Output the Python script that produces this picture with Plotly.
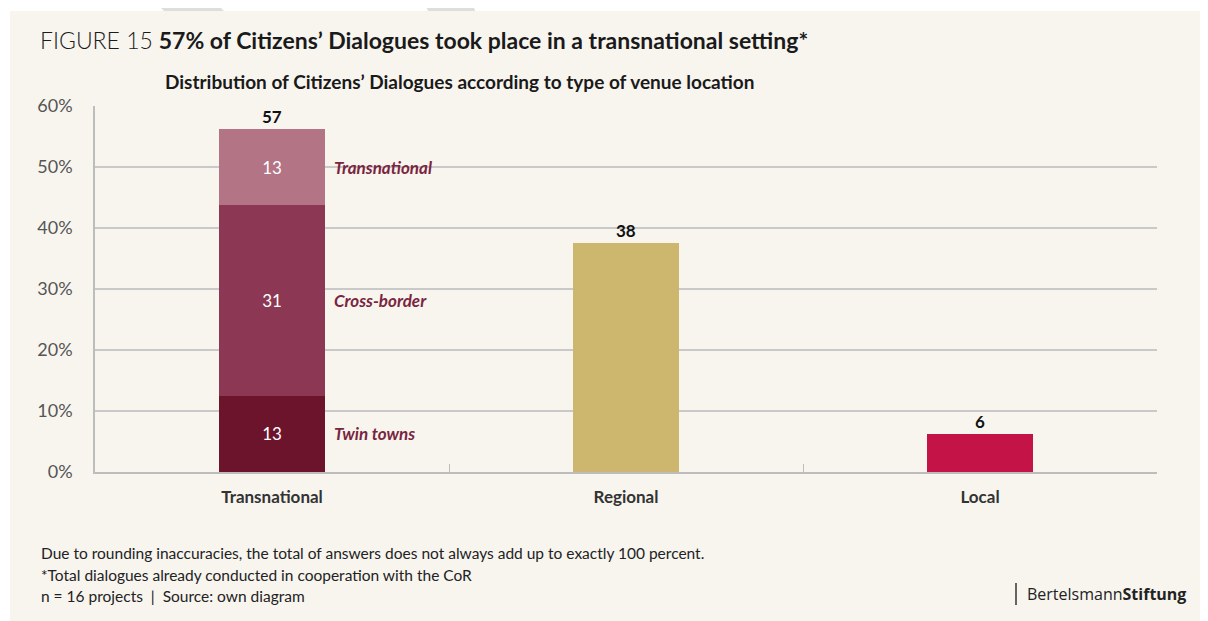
import plotly.graph_objects as go

categories = ["Transnational", "Regional", "Local"]
segment_names = ["Twin towns", "Cross-border", "Transnational"]
segment_values = [12.5, 31.25, 12.5]          # Transnational bar stack
segment_labels = ["13", "31", "13"]
segment_colors = ["#6d142d", "#8c3753", "#b37485"]
other_values = [37.5, 6.25]                   # Regional, Local
other_colors = ["#cdb76e", "#c41447"]
total_labels = ["57", "38", "6"]
y_ticks = [0, 10, 20, 30, 40, 50, 60]
y_tick_text = ["0%", "10%", "20%", "30%", "40%", "50%", "60%"]

OFF = 8  # page body margin
W, H = 1208 - OFF, 621 - OFF
# plot area in screen pixels
SL, SR, ST, SB = 95, 1157, 106, 472
L, R, T, B = SL - OFF, SR - OFF, ST - OFF, SB - OFF
FONT = "Lato"

fig = go.Figure()
for name, v, lab, col in zip(segment_names, segment_values, segment_labels, segment_colors):
    fig.add_trace(go.Bar(
        x=[categories[0]], y=[v], name=name, marker=dict(color=col, line=dict(width=0)),
        text=[lab], textposition="inside", insidetextanchor="middle",
        textfont=dict(color="white", size=17, family=FONT), width=0.3,
        hoverinfo="skip"))
fig.add_trace(go.Bar(
    x=categories[1:], y=other_values, marker=dict(color=other_colors, line=dict(width=0)),
    width=0.3, hoverinfo="skip", showlegend=False))

totals = [sum(segment_values)] + other_values
annotations = []
for c, t, lab in zip(categories, totals, total_labels):
    annotations.append(dict(x=c, y=t, text=f"<b>{lab}</b>", showarrow=False, yanchor="bottom",
                            yshift=0, font=dict(size=17, color="#111", family=FONT)))
cum = 0
for name, v in zip(segment_names, segment_values):
    annotations.append(dict(x=categories[0], y=cum + v / 2, text=f"<b><i>{name}</i></b>", showarrow=False,
                            xanchor="left", xshift=60, font=dict(size=17, color="#7a2540", family=FONT)))
    cum += v

def px(x):  # screen x -> paper
    return (x - SL) / (SR - SL)

def py(y):  # screen y -> paper
    return (SB - y) / (SB - ST)

def note(x, y, text, size, anchor="left", family=FONT, color="#222"):
    return dict(x=px(x), y=py(y), xref="paper", yref="paper", xanchor=anchor, yanchor="middle",
                showarrow=False, text=text, font=dict(size=size, color=color, family=family))

annotations += [
    note(38, 40, "<span style='font-weight:300'>FIGURE 15</span> <b>57% of Citizens’ Dialogues took place in a transnational setting*</b>",
         23, color="#1a1a1a"),
    note(163, 81, "<b>Distribution of Citizens’ Dialogues according to type of venue location</b>", 19, color="#1a1a1a"),
    note(39, 553, "Due to rounding inaccuracies, the total of answers does not always add up to exactly 100 percent.", 15.5),
    note(39, 575, "*Total dialogues already conducted in cooperation with the CoR", 15.5),
    note(39, 596, "n = 16 projects  |  Source: own diagram", 15.5),
    note(1188, 594, "Bertelsmann<b>Stiftung</b>", 16, anchor="right", family="Open Sans"),
]

shapes = [
    dict(type="rect", xref="paper", yref="paper", x0=px(10), x1=px(1230), y0=py(640), y1=py(11),
         fillcolor="#f8f5ef", line=dict(width=0), layer="below"),
    dict(type="path", xref="paper", yref="paper", layer="below", fillcolor="#dedede", line=dict(width=0),
         path=f"M {px(153)} {py(0)} L {px(213)} {py(0)} L {px(224)} {py(11)} L {px(164)} {py(11)} Z"),
    dict(type="path", xref="paper", yref="paper", layer="below", fillcolor="#dedede", line=dict(width=0),
         path=f"M {px(423)} {py(0)} L {px(472)} {py(0)} L {px(475)} {py(11)} L {px(428)} {py(11)} Z"),
    dict(type="line", xref="paper", yref="paper", x0=px(1016), x1=px(1016), y0=py(583), y1=py(605),
         line=dict(color="#333", width=1.5)),
]

fig.update_layout(
    width=W, height=H, barmode="stack", showlegend=False,
    margin=dict(l=L, r=W - R, t=T, b=H - B, pad=0),
    paper_bgcolor="white", plot_bgcolor="rgba(0,0,0,0)",
    font=dict(family=FONT, color="#333"),
    annotations=annotations, shapes=shapes,
    xaxis=dict(type="category", categoryorder="array", categoryarray=categories,
               showline=True, linecolor="#bdbdbd", linewidth=1.5, ticks="inside", tickson="boundaries",
               ticklen=8, tickcolor="#bdbdbd", tickwidth=1, showgrid=False,
               tickfont=dict(size=17, color="#333", family=FONT),
               tickvals=categories, ticktext=[f"<b>{c}</b>" for c in categories],
               ticklabelstandoff=9, fixedrange=True),
    yaxis=dict(range=[0, 60], tickvals=y_ticks, ticktext=y_tick_text, showgrid=True, gridcolor="#c9c9c9",
               gridwidth=1.5, showline=True, linecolor="#bdbdbd", linewidth=1.5, zeroline=False,
               ticks="", tickfont=dict(size=18, color="#555", family=FONT), ticklabelstandoff=17,
               fixedrange=True),
)

fig.write_html("out.html")
